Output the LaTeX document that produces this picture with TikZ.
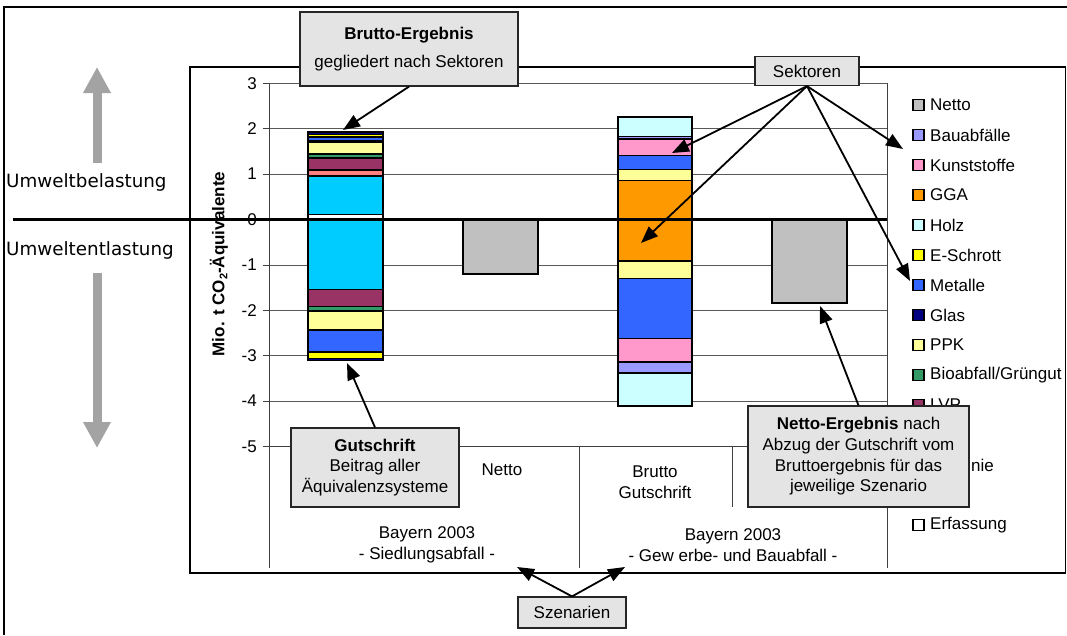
\documentclass[tikz,border=0pt]{standalone}
\usepackage{fontspec}
\setmainfont{Liberation Sans}
\newfontfamily\sidefont{DejaVu Sans}
\usetikzlibrary{arrows.meta}
\definecolor{cNetto}{HTML}{C0C0C0}
\definecolor{cBau}{HTML}{9999FF}
\definecolor{cKunst}{HTML}{FF99CC}
\definecolor{cGGA}{HTML}{FF9900}
\definecolor{cHolz}{HTML}{CCFFFF}
\definecolor{cES}{HTML}{FFFF00}
\definecolor{cMet}{HTML}{3366FF}
\definecolor{cGlas}{HTML}{000080}
\definecolor{cPPK}{HTML}{FFFF99}
\definecolor{cBio}{HTML}{339966}
\definecolor{cLVP}{HTML}{993366}
\definecolor{cSalm}{HTML}{FF8080}
\definecolor{cCyan}{HTML}{00CCFF}
\definecolor{boxgray}{HTML}{E4E4E4}
\definecolor{bigarrow}{HTML}{A3A3A3}
\newcommand\barseg[5]{\draw[segline,fill=#5] (#1,#3) rectangle (#2,#4);}
\begin{document}
\begin{tikzpicture}[x=1pt,y=-1pt,
  segline/.style={draw=black,line width=1.1pt},
  txt/.style={font=\fontsize{17}{20.7}\selectfont,inner sep=0pt},
  callout/.style={draw=black!85,line width=1.2pt,fill=boxgray,align=center,inner sep=0pt,font=\fontsize{17}{20.7}\selectfont},
  conn/.style={draw=black,line width=1.8pt,-{Triangle[length=17pt,width=13pt]}},
  grid line/.style={draw=black!65,line width=0.8pt},
  fatarrow/.style={draw=bigarrow,line width=9pt,-{Triangle[length=26pt,width=26pt]}}]
\useasboundingbox (0,0) rectangle (1067,635);
\fill[white] (0,0) rectangle (1067,635);
% outer frame (cut by picture edges)
\draw[line width=2pt] (1067,7) -- (4,7) -- (4,635);
% inner chart frame
\draw[line width=1.8pt] (190,67) rectangle (1065.5,573);
% grid lines
\foreach \v in {3,2,1,-1,-2,-3,-4} {
  \draw[grid line] (269,{219.5-45.4*\v}) -- (887,{219.5-45.4*\v});
}
\foreach \v in {3,2,1,0,-1,-2,-3,-4,-5} {
  \draw[black!75,line width=0.8pt] (263,{219.5-45.4*\v}) -- (269,{219.5-45.4*\v});
  \node[txt,anchor=east] at (257,{219.5-45.4*\v}) {\v};
}
% axes and category separators
\draw[black!75,line width=0.8pt] (269,83) -- (269,568);
\draw[black!75,line width=0.8pt] (263,446.5) -- (887,446.5);
\draw[black!75,line width=0.8pt] (887,83) -- (887,568);
\draw[black!75,line width=0.8pt] (579,446.5) -- (579,568);
\draw[black!75,line width=0.8pt] (424,446.5) -- (424,507);
\draw[black!75,line width=0.8pt] (732,446.5) -- (732,507);
% left stacked bar (Siedlungsabfall)
\barseg{308}{383}{214.5}{219.5}{white}
\barseg{308}{383}{176}{214.5}{cCyan}
\barseg{308}{383}{170}{176}{cSalm}
\barseg{308}{383}{158}{170}{cLVP}
\barseg{308}{383}{154}{158}{cBio}
\barseg{308}{383}{142.5}{154}{cPPK}
\barseg{308}{383}{141}{142.5}{white}
\barseg{308}{383}{137}{141}{cMet}
\barseg{308}{383}{134.5}{137}{cES}
\barseg{308}{383}{132}{134.5}{cGlas}
\barseg{308}{383}{219.5}{289.5}{cCyan}
\barseg{308}{383}{289.5}{306.5}{cLVP}
\barseg{308}{383}{306.5}{311}{cBio}
\barseg{308}{383}{311}{330}{cPPK}
\barseg{308}{383}{330}{352}{cMet}
\barseg{308}{383}{352}{358.5}{cES}
\barseg{308}{383}{358.5}{360.5}{cGlas}
% middle stacked bar (Gewerbe- und Bauabfall)
\barseg{618}{692}{117}{136.5}{cHolz}
\barseg{618}{692}{136.5}{139}{cBau}
\barseg{618}{692}{139}{155.5}{cKunst}
\barseg{618}{692}{155.5}{169.5}{cMet}
\barseg{618}{692}{169.5}{180.5}{cPPK}
\barseg{618}{692}{180.5}{219.5}{cGGA}
\barseg{618}{692}{219.5}{261}{cGGA}
\barseg{618}{692}{261}{278.5}{cPPK}
\barseg{618}{692}{278.5}{338.5}{cMet}
\barseg{618}{692}{338.5}{362}{cKunst}
\barseg{618}{692}{362}{373}{cBau}
\barseg{618}{692}{373}{406}{cHolz}
% netto bars
\barseg{463}{538}{219.5}{274}{cNetto}
\barseg{772}{847}{219.5}{303}{cNetto}
% zero line
\draw[line width=2.2pt] (13,219.5) -- (887,219.5);
% left side labels and arrows
\node[font=\sidefont\fontsize{18.3}{21}\selectfont,anchor=west,inner sep=0pt] (belast) at (6,182) {Umweltbelastung};
\node[font=\sidefont\fontsize{18.3}{21}\selectfont,anchor=west,inner sep=0pt] (entlast) at (6,250) {Umweltentlastung};
\coordinate (upS) at (97,163);
\coordinate (upE) at (97,67);
\coordinate (dnS) at (97,273);
\coordinate (dnE) at (97,448);
\draw[fatarrow] (upS) -- (upE);
\draw[fatarrow] (dnS) -- (dnE);
% y axis title
\node[rotate=90,font=\bfseries\fontsize{17}{20}\selectfont,inner sep=0pt] (ytitle) at (219,264)
  {Mio. t CO\raisebox{-3pt}{\fontsize{11}{11}\selectfont 2}-Äquivalente};
% category labels
\node[txt] (cNettoL) at (502,470) {Netto};
\node[txt,align=center] (cBruttoR) at (655,482) {Brutto\\Gutschrift};
\node[txt,align=center] (grpL) at (427,545) {Bayern 2003\\- Siedlungsabfall -};
\node[txt,align=center] (grpR) at (733,545) {Bayern 2003\\- Gew erbe- und Bauabfall -};
% legend
\foreach \i/\nm/\col in {0/Netto/cNetto,1/Bauabfälle/cBau,2/Kunststoffe/cKunst,3/GGA/cGGA,4/Holz/cHolz,5/E-Schrott/cES,6/Metalle/cMet,7/Glas/cGlas,8/PPK/cPPK,9/Bioabfall\slash Grüngut/cBio,10/LVP/cLVP,14/Erfassung/white} {
  \draw[draw=black,line width=1.1pt,fill=\col] (913,{105+30*\i-5.5}) rectangle (924,{105+30*\i+5.5});
  \node[txt,anchor=west] at (930,{105+30*\i}) {\nm};
}
\node[txt,anchor=west] (depo) at (971,465) {nie};
% callout boxes
\node[callout,minimum width=218pt,minimum height=74pt] (brutto) at (409,49)
  {\textbf{Brutto-Ergebnis}\\[7pt]gegliedert nach Sektoren};
\node[callout,minimum width=104pt,minimum height=29pt] (sektoren) at (807,71) {Sektoren};
\node[callout,minimum width=168pt,minimum height=79pt] (gutschrift) at (375,467.5)
  {\textbf{Gutschrift}\\Beitrag aller\\Äquivalenzsysteme};
\node[callout,minimum width=221pt,minimum height=101pt] (nettoerg) at (858.5,456.5)
  {\textbf{Netto-Ergebnis} nach\\Abzug der Gutschrift vom\\Bruttoergebnis für das\\jeweilige Szenario};
\node[callout,minimum width=108pt,minimum height=31pt] (szen) at (572,612.5) {Szenarien};
% arrow targets
\coordinate (tBrutto) at (343,130);
\coordinate (tS1) at (672,153);
\coordinate (tS2) at (641,243);
\coordinate (tS3) at (903,149);
\coordinate (tS4) at (910,281);
\coordinate (tGut) at (347,363);
\coordinate (tNetto) at (820,306);
\coordinate (tSzL) at (517,567);
\coordinate (tSzR) at (625,567);
% connectors
\draw[conn] (brutto.south) -- (tBrutto);
\draw[conn] (sektoren.south) -- (tS1);
\draw[conn] (sektoren.south) -- (tS2);
\draw[conn] (sektoren.south) -- (tS3);
\draw[conn] (sektoren.south) -- (tS4);
\draw[conn] (gutschrift.north) -- (tGut);
\draw[conn] (nettoerg.north) -- (tNetto);
\draw[conn] (szen.north) -- (tSzL);
\draw[conn] (szen.north) -- (tSzR);
\end{tikzpicture}
\end{document}
